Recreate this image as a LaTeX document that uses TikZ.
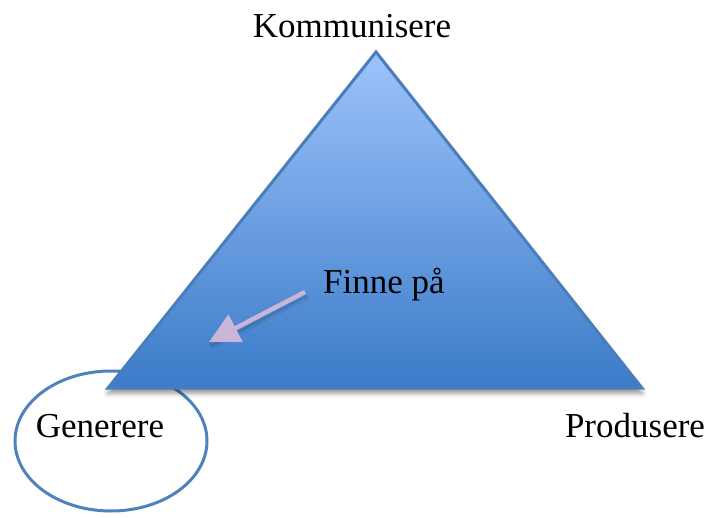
\documentclass[tikz,border=0pt]{standalone}
\usepackage{fontspec}
\setmainfont{Liberation Serif}
\usetikzlibrary{arrows.meta,shadows.blur}
\definecolor{triTop}{HTML}{9DC3FB}
\definecolor{triBot}{HTML}{3B7BC8}
\definecolor{triEdge}{HTML}{4A7EBB}
\definecolor{ringBlue}{HTML}{4F81BD}
\definecolor{arrowLilac}{HTML}{C9B5D8}
\tikzset{
  label text/.style={font=\fontsize{35}{40}\selectfont, anchor=base, text=black, inner sep=0pt},
}
\begin{document}
\begin{tikzpicture}[x=1pt,y=-1pt]
\useasboundingbox (0,0) rectangle (712,517);
% open ring round the lower left corner (y axis points down, so 90 degrees is the bottom)
\coordinate (ringC) at (111,441);
\draw[ringBlue, line width=3pt] (ringC) ++(91:96 and 70) arc[start angle=91, end angle=455, x radius=96, y radius=70];
% corners of the triangle
\coordinate (apex) at (376,52);
\coordinate (bl) at (108,388);
\coordinate (br) at (642,388);
% shaded triangle with a soft shadow under it
\path[blur shadow={shadow xshift=0pt, shadow yshift=-5pt, shadow blur radius=5pt, shadow opacity=45}]
  (apex) -- (br) -- (bl) -- cycle;
\path[top color=triTop, bottom color=triBot] (apex) -- (br) -- (bl) -- cycle;
\draw[triEdge, line width=3pt, line join=miter] (apex) -- (br) -- (bl) -- cycle;
% arrow inside the triangle
\coordinate (arrFrom) at (305,292);
\coordinate (arrTo) at (209,342);
\draw[arrowLilac, line width=4.5pt, -{Triangle[length=30pt,width=30pt]},
  blur shadow={shadow xshift=2pt, shadow yshift=-4pt, shadow blur radius=3pt, shadow opacity=35}]
  (arrFrom) -- (arrTo);
% labels
\node[label text] (komm) at (352,37) {Kommunisere};
\node[label text] (finne) at (384,293) {Finne på};
\node[label text] (gen) at (100,437) {Generere};
\node[label text] (prod) at (635,437) {Produsere};
\end{tikzpicture}
\end{document}
